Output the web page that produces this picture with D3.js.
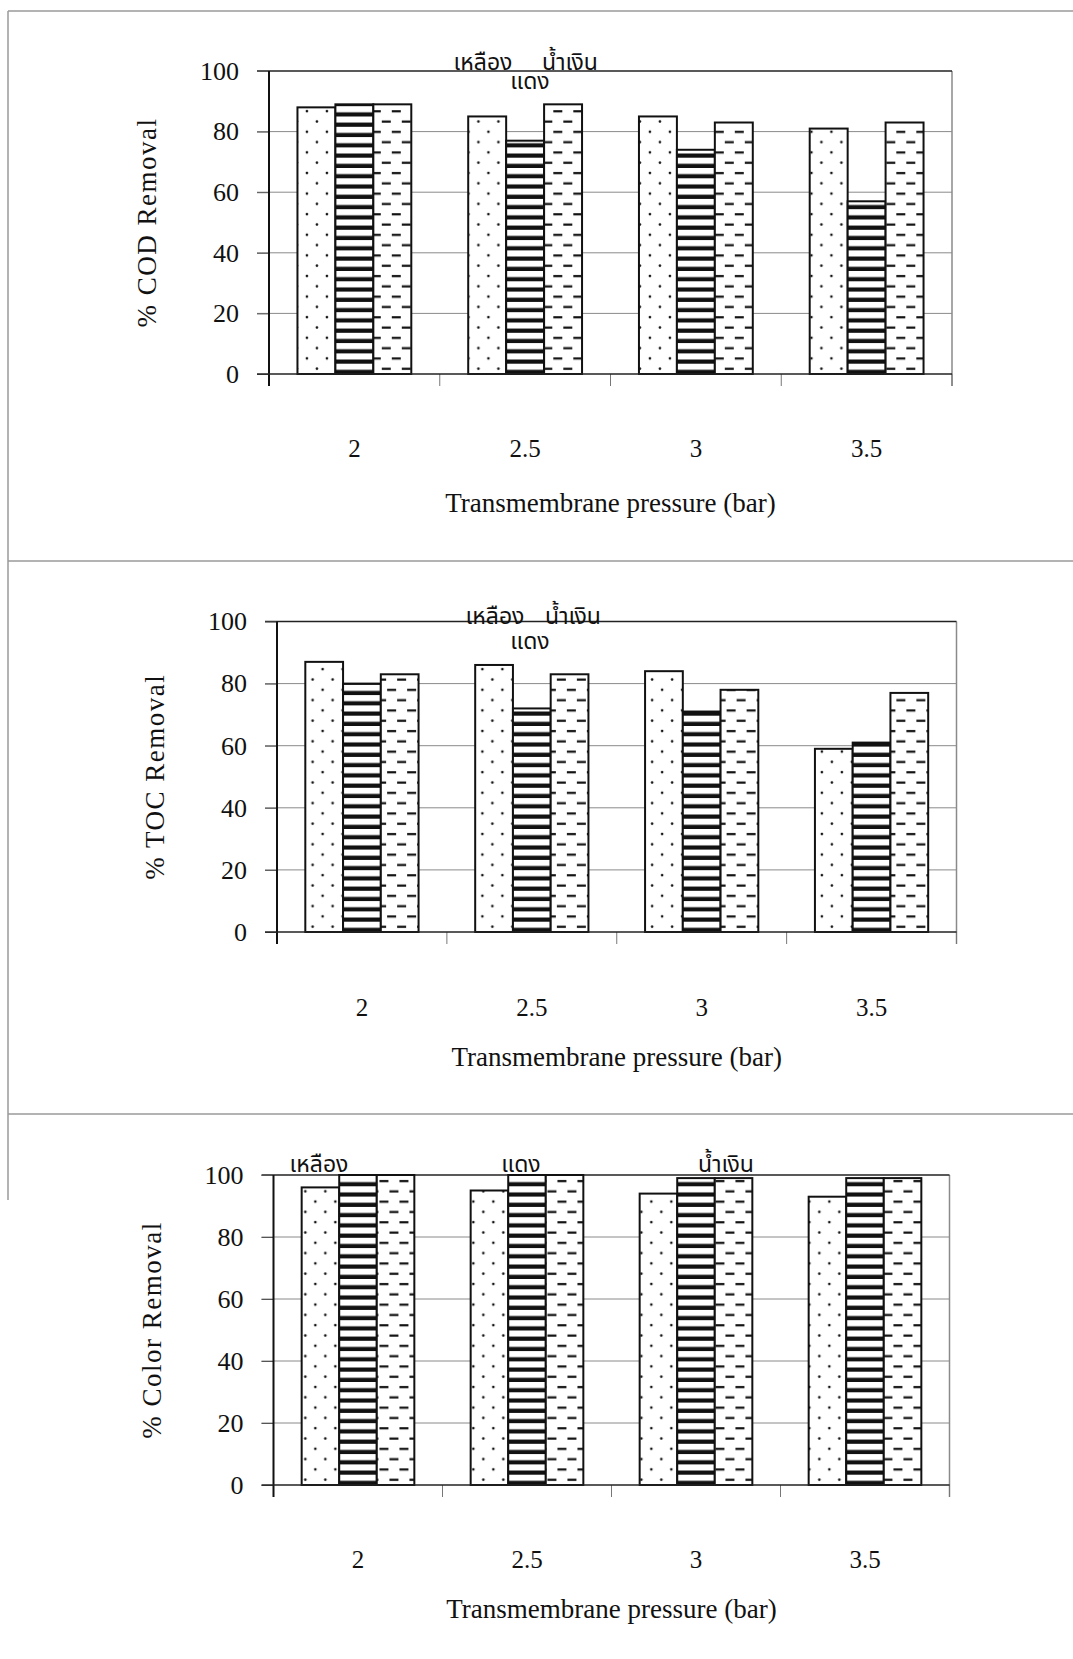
<!DOCTYPE html>
<html>
<head>
<meta charset="utf-8">
<script src="https://cdn.jsdelivr.net/npm/d3@7"></script>
<style>
  body { margin: 0; background: #fff; }
  text { font-family: 'Liberation Serif', 'Times New Roman', serif; fill: #111; }
  .thai { font-family: 'Noto Sans Thai', 'Noto Serif Thai', 'Garuda', 'Loma', 'Norasi', 'Tlwg Typo', sans-serif; }
</style>
</head>
<body>
<script>
// categories and series
const categories = ['2', '2.5', '3', '3.5']
const seriesKeys = ['yellow', 'red', 'blue']
const seriesNames = ['เหลือง', 'แดง', 'น้ำเงิน']
const yTicks = [0, 20, 40, 60, 80, 100]

// % COD removal
const codYellow = [88, 85, 85, 81]
const codRed = [89, 77, 74, 57]
const codBlue = [89, 89, 83, 83]

// % TOC removal
const tocYellow = [87, 86, 84, 59]
const tocRed = [80, 72, 71, 61]
const tocBlue = [83, 83, 78, 77]

// % color removal
const colorYellow = [96, 95, 94, 93]
const colorRed = [100, 100, 99, 99]
const colorBlue = [100, 100, 99, 99]

const xAxisLabel = 'Transmembrane pressure (bar)'

const width = 1073
const height = 1659

const svg = d3.select('body')
  .append('svg')
  .attr('width', width)
  .attr('height', height)

const defs = svg.append('defs')

// page frame lines of the scanned page
const frame = svg.append('g')
  .attr('stroke', '#9a9a9a')
  .attr('stroke-width', 1.5)
frame.append('line').attr('x1', 8).attr('x2', width).attr('y1', 11).attr('y2', 11)
frame.append('line').attr('x1', 8).attr('x2', width).attr('y1', 561).attr('y2', 561)
frame.append('line').attr('x1', 8).attr('x2', width).attr('y1', 1114).attr('y2', 1114)
frame.append('line').attr('x1', 8).attr('x2', 8).attr('y1', 11).attr('y2', 1200)

const panels = [
  {
    id: 'cod', yLabel: '% COD Removal',
    values: { yellow: codYellow, red: codRed, blue: codBlue },
    left: 269, right: 952, top: 71, bottom: 374,
    catOffset: 83, titleOffset: 138,
    legend: [[483, 70], [530, 89], [570, 70]]
  },
  {
    id: 'toc', yLabel: '% TOC Removal',
    values: { yellow: tocYellow, red: tocRed, blue: tocBlue },
    left: 277, right: 956.5, top: 621.5, bottom: 932,
    catOffset: 84, titleOffset: 134,
    legend: [[495, 624], [530, 649], [573, 624]]
  },
  {
    id: 'color', yLabel: '% Color Removal',
    values: { yellow: colorYellow, red: colorRed, blue: colorBlue },
    left: 273.5, right: 949.5, top: 1175, bottom: 1485,
    catOffset: 83, titleOffset: 133,
    legend: [[319, 1172], [521, 1172], [726, 1172]]
  }
]

// fill patterns: dots, thick horizontal stripes, staggered dashes
function makePattern(id, key, x, y) {
  const p = defs.append('pattern')
    .attr('id', id)
    .attr('patternUnits', 'userSpaceOnUse')
    .attr('x', x)
    .attr('y', y)
    .attr('width', 20)
    .attr('height', key === 'red' ? 10.3 : 20.6)
  p.append('rect').attr('width', 20).attr('height', 20.6).attr('fill', '#fff')
  if (key === 'yellow') {
    p.append('circle').attr('cx', 12).attr('cy', 5).attr('r', 1.3).attr('fill', '#111')
    p.append('circle').attr('cx', 2).attr('cy', 15.3).attr('r', 1.3).attr('fill', '#111')
  } else if (key === 'red') {
    p.append('rect').attr('y', 6.1).attr('width', 20).attr('height', 4.2).attr('fill', '#111')
  } else {
    p.append('rect').attr('x', 1).attr('y', 4).attr('width', 9).attr('height', 2.2).attr('fill', '#111')
    p.append('rect').attr('x', 11).attr('y', 14.3).attr('width', 9).attr('height', 2.2).attr('fill', '#111')
  }
}

panels.forEach(p => {
  const main = svg.append('g').attr('class', p.id)

  const yScale = d3.scaleLinear()
    .domain([0, 100])
    .range([p.bottom, p.top])

  const xScale = d3.scaleBand()
    .domain(categories)
    .range([p.left, p.right])
    .paddingInner(1 / 3)
    .paddingOuter(1 / 6)

  const xSub = d3.scaleBand()
    .domain(seriesKeys)
    .range([0, xScale.bandwidth()])

  // gridlines
  main.append('g')
    .selectAll('line')
    .data(yTicks.filter(d => d > 0 && d < 100))
    .enter()
    .append('line')
    .attr('x1', p.left - 12)
    .attr('x2', p.right)
    .attr('y1', d => yScale(d))
    .attr('y2', d => yScale(d))
    .attr('stroke', '#8a8a8a')
    .attr('stroke-width', 1)

  // right border
  main.append('line')
    .attr('x1', p.right).attr('x2', p.right)
    .attr('y1', p.top).attr('y2', p.bottom + 12)
    .attr('stroke', '#8a8a8a')
    .attr('stroke-width', 1.5)

  // top border at 100
  main.append('line')
    .attr('x1', p.left - 12).attr('x2', p.right)
    .attr('y1', yScale(100)).attr('y2', yScale(100))
    .attr('stroke', '#222')
    .attr('stroke-width', 1.5)

  // y-axis
  const yAxis = d3.axisLeft(yScale)
    .tickValues(yTicks)
    .tickSize(12)
    .tickPadding(18)

  const yg = main.append('g')
    .attr('transform', `translate(${p.left}, 0)`)
    .call(yAxis)
  yg.select('.domain').remove()
  yg.selectAll('.tick line').attr('stroke', '#555')
  yg.selectAll('.tick text')
    .attr('font-size', 26)
    .attr('font-family', "'Liberation Serif', serif")
    .attr('fill', '#111')

  main.append('line')
    .attr('x1', p.left).attr('x2', p.left)
    .attr('y1', p.top).attr('y2', p.bottom + 12)
    .attr('stroke', '#111')
    .attr('stroke-width', 2)

  // category boundary ticks below the axis
  main.append('g')
    .selectAll('line')
    .data(d3.range(1, categories.length + 1))
    .enter()
    .append('line')
    .attr('x1', i => p.left + i * xScale.step())
    .attr('x2', i => p.left + i * xScale.step())
    .attr('y1', p.bottom)
    .attr('y2', p.bottom + 12)
    .attr('stroke', '#777')
    .attr('stroke-width', 1)

  // bars
  const groups = main.append('g')
    .selectAll('g')
    .data(categories)
    .enter()
    .append('g')
    .attr('transform', d => `translate(${xScale(d)}, 0)`)

  groups.selectAll('rect')
    .data((c, i) => seriesKeys.map(k => ({ cat: c, ci: i, key: k, value: p.values[k][i] })))
    .enter()
    .append('rect')
    .attr('x', d => xSub(d.key))
    .attr('y', d => yScale(d.value))
    .attr('width', xSub.bandwidth())
    .attr('height', d => yScale(0) - yScale(d.value))
    .attr('fill', d => {
      const id = `pat-${p.id}-${d.key}-${d.ci}`
      makePattern(id, d.key, xScale(d.cat) + xSub(d.key), p.bottom)
      return `url(#${id})`
    })
    .attr('stroke', '#111')
    .attr('stroke-width', 2)

  // zero line
  main.append('line')
    .attr('x1', p.left - 12).attr('x2', p.right)
    .attr('y1', p.bottom).attr('y2', p.bottom)
    .attr('stroke', '#222')
    .attr('stroke-width', 1.5)

  // category labels
  main.append('g')
    .selectAll('text')
    .data(categories)
    .enter()
    .append('text')
    .attr('x', d => xScale(d) + xScale.bandwidth() / 2)
    .attr('y', p.bottom + p.catOffset)
    .attr('text-anchor', 'middle')
    .attr('font-size', 25)
    .text(d => d)

  // x-axis label
  main.append('text')
    .attr('x', (p.left + p.right) / 2)
    .attr('y', p.bottom + p.titleOffset)
    .attr('text-anchor', 'middle')
    .attr('font-size', 27)
    .text(xAxisLabel)

  // y-axis label
  main.append('text')
    .attr('transform', `translate(${p.left - 122}, ${(p.top + p.bottom) / 2}) rotate(-90)`)
    .attr('text-anchor', 'middle')
    .attr('dominant-baseline', 'central')
    .attr('font-size', 27)
    .attr('letter-spacing', 1.5)
    .text(p.yLabel)

  // series name labels (legend-like, inside the chart)
  main.append('g')
    .selectAll('text')
    .data(seriesNames)
    .enter()
    .append('text')
    .attr('class', 'thai')
    .attr('x', (d, i) => p.legend[i][0])
    .attr('y', (d, i) => p.legend[i][1])
    .attr('text-anchor', 'middle')
    .attr('font-size', 23)
    .text(d => d)
})
</script>
</body>
</html>
